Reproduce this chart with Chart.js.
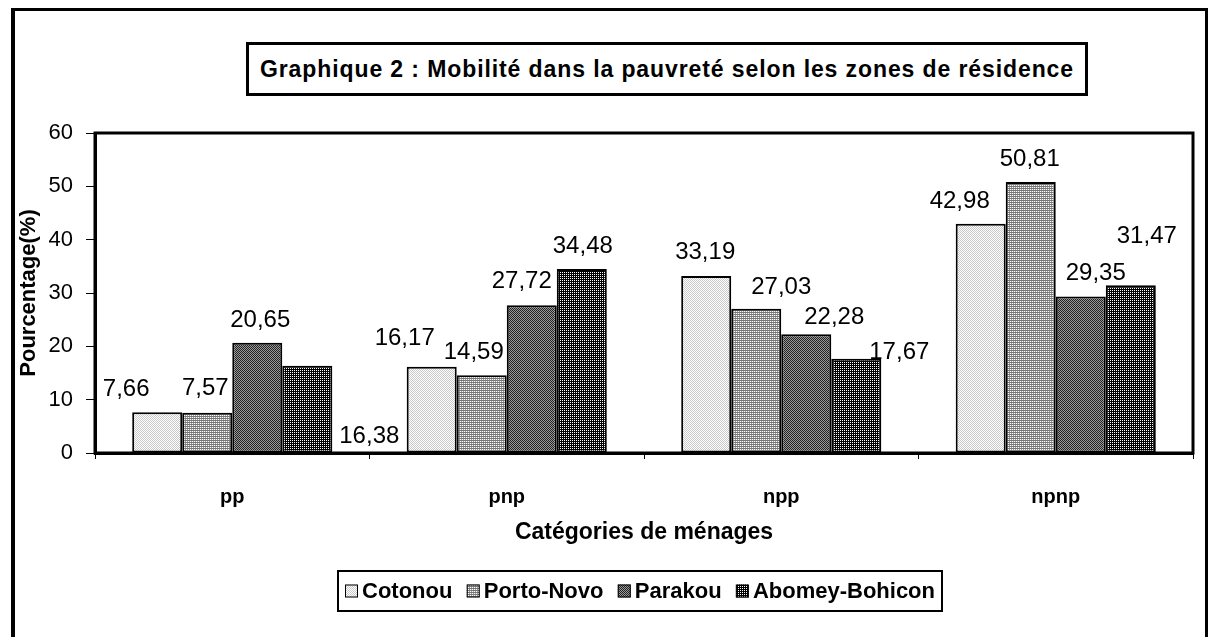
<!DOCTYPE html>
<html>
<head>
<meta charset="utf-8">
<script src="https://cdn.jsdelivr.net/npm/chart.js@4.4.1/dist/chart.umd.min.js"></script>
<style>
  html, body { margin: 0; padding: 0; background: #fff; overflow: hidden; }
  #wrap { position: relative; width: 1209px; height: 637px; }
  #frame { position: absolute; left: 11px; top: 8px; width: 1190px; height: 700px; border: 3px solid #000; border-left-width: 4px; }
  #title { position: absolute; left: 246px; top: 42px; width: 836px; height: 48px; border: 3px solid #000;
    font: bold 23px "Liberation Sans", Arial, sans-serif; letter-spacing: 0.9px; line-height: 48px;
    text-align: center; color: #000; white-space: nowrap; }
  canvas { position: absolute; left: 0; top: 0; }
</style>
</head>
<body>
<div id="wrap">
  <div id="frame"></div>
  <div id="title">Graphique 2 : Mobilité dans la pauvreté selon les zones de résidence</div>
  <canvas id="myChart" width="1209" height="637"></canvas>
</div>
<script>
// data
var categories = ['pp', 'pnp', 'npp', 'npnp'];
var seriesNames = ['Cotonou', 'Porto-Novo', 'Parakou', 'Abomey-Bohicon'];
var cotonou = [7.66, 16.17, 33.19, 42.98];
var portoNovo = [7.57, 14.59, 27.03, 50.81];
var parakou = [20.65, 27.72, 22.28, 29.35];
var abomey = [16.38, 34.48, 17.67, 31.47];
var yTicks = [0, 10, 20, 30, 40, 50, 60];

// where Excel put each value label, relative to the top of its bar
var labelDx = [[-31, -27, -1, -21], [-2, -8, 25, -1], [3, -10, 28, 15], [62, 1, 43, 16]];
var labelUp = [[23, 28, 24, 22], [24, 23, 21, 23], [22, 24, 17, 23], [-71, 23, 6, 49]];

var FONT = '"Liberation Sans", Arial, sans-serif';

function makePattern(size, pixels) {
  var c = document.createElement('canvas');
  c.width = size; c.height = size;
  var g = c.getContext('2d');
  for (var y = 0; y < size; y++) {
    for (var x = 0; x < size; x++) {
      g.fillStyle = pixels[y][x];
      g.fillRect(x, y, 1, 1);
    }
  }
  return g.createPattern(c, 'repeat');
}

var fills = [
  makePattern(2, [['#c8c8c8', '#ffffff'], ['#ffffff', '#c8c8c8']]),
  makePattern(2, [['#777777', '#777777'], ['#ffffff', '#999999']]),
  makePattern(2, [['#222222', '#9a9a9a'], ['#9a9a9a', '#222222']]),
  makePattern(2, [['#ffffff', '#000000'], ['#000000', '#000000']])
];

var values = [cotonou, portoNovo, parakou, abomey];
var datasets = [];
for (var i = 0; i < values.length; i++) {
  datasets.push({
    label: seriesNames[i],
    data: values[i],
    backgroundColor: fills[i],
    borderColor: '#000',
    borderWidth: 2,
    borderSkipped: false,
    categoryPercentage: 0.729,
    barPercentage: 1
  });
}

var valueLabels = {
  id: 'valueLabels',
  afterDatasetsDraw: function(chart) {
    var ctx = chart.ctx;
    ctx.save();
    ctx.font = '24px ' + FONT;
    ctx.fillStyle = '#000';
    ctx.textAlign = 'center';
    ctx.textBaseline = 'middle';
    chart.data.datasets.forEach(function(ds, di) {
      var meta = chart.getDatasetMeta(di);
      meta.data.forEach(function(bar, j) {
        var txt = ds.data[j].toFixed(2).replace('.', ',');
        ctx.fillText(txt, bar.x + labelDx[di][j], bar.y - labelUp[di][j]);
      });
    });
    ctx.restore();
  }
};

var plotBox = {
  id: 'plotBox',
  afterDraw: function(chart) {
    var a = chart.chartArea, ctx = chart.ctx;
    ctx.save();
    ctx.strokeStyle = '#000';
    ctx.lineWidth = 3;
    ctx.strokeRect(a.left, a.top, a.right - a.left, a.bottom - a.top);
    ctx.restore();
  }
};

var boxLegend = {
  id: 'boxLegend',
  afterDraw: function(chart) {
    var ctx = chart.ctx;
    var left = 338, top = 571, w = 604, h = 40, sw = 13, gapText = 4, padX = 7;
    ctx.save();
    ctx.font = 'bold 22px ' + FONT;
    var used = padX * 2;
    seriesNames.forEach(function(n) { used += sw + gapText + ctx.measureText(n).width; });
    var gapItem = (w - used) / (seriesNames.length - 1);
    ctx.strokeStyle = '#000';
    ctx.lineWidth = 2;
    ctx.strokeRect(left, top, w, h);
    var x = left + padX, my = top + h / 2;
    seriesNames.forEach(function(n, i) {
      ctx.fillStyle = fills[i];
      ctx.fillRect(x, my - sw / 2, sw, sw);
      ctx.lineWidth = 1;
      ctx.strokeRect(x + 0.5, my - sw / 2 + 0.5, sw - 1, sw - 1);
      x += sw + gapText;
      ctx.fillStyle = '#000';
      ctx.textAlign = 'left';
      ctx.textBaseline = 'middle';
      ctx.fillText(n, x, my + 1);
      x += ctx.measureText(n).width + gapItem;
    });
    ctx.restore();
  }
};

var ctx = document.getElementById('myChart').getContext('2d');
var chart = new Chart(ctx, {
  type: 'bar',
  data: { labels: categories, datasets: datasets },
  options: {
    responsive: false,
    animation: false,
    devicePixelRatio: 1,
    layout: { padding: { left: 16, right: 16, top: 133, bottom: 91 } },
    plugins: { legend: { display: false }, tooltip: { enabled: false } },
    scales: {
      x: {
        afterFit: function(s) { s.height = 93; },
        grid: { drawOnChartArea: false, drawTicks: true, tickLength: 6, color: '#000', offset: true },
        border: { display: true, color: '#000', width: 3 },
        ticks: { color: '#000', padding: 26, font: { family: FONT, size: 20, weight: 'bold' } },
        title: { display: true, text: 'Catégories de ménages', color: '#000', padding: 0,
          font: { family: FONT, size: 23, weight: 'bold' } }
      },
      y: {
        min: 0, max: 60,
        afterFit: function(s) { s.width = 79; },
        afterBuildTicks: function(s) { s.ticks = yTicks.map(function(v) { return { value: v }; }); },
        grid: { drawOnChartArea: false, drawTicks: true, tickLength: 9, color: '#000' },
        border: { display: true, color: '#000', width: 3 },
        ticks: { color: '#000', padding: 13, font: { family: FONT, size: 22 } },
        title: { display: true, text: 'Pourcentage(%)', color: '#000', padding: 0,
          font: { family: FONT, size: 22, weight: 'bold' } }
      }
    }
  },
  plugins: [valueLabels, plotBox, boxLegend]
});
</script>
</body>
</html>
